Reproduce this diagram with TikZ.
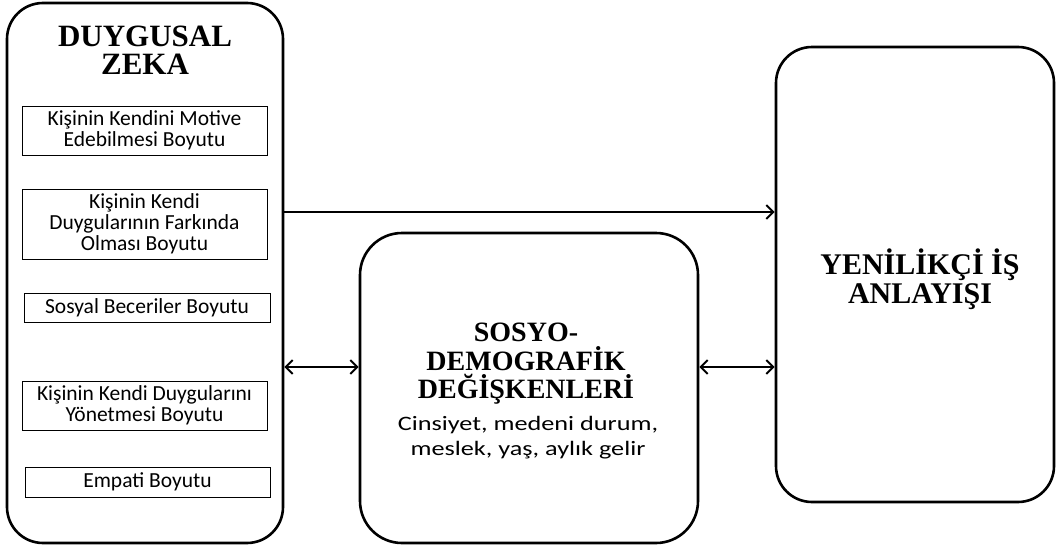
\documentclass[tikz,border=0pt]{standalone}
\usepackage{fontspec}
\setmainfont{Carlito}
\newfontfamily\tnr{Liberation Serif}
\newfontfamily\widecal{Carlito}[FakeStretch=1.28]
\usetikzlibrary{arrows.meta}
\begin{document}
\begin{tikzpicture}[x=1pt,y=-1pt,
  bigbox/.style={draw, line width=2.6pt, rounded corners=36pt, inner sep=0pt},
  subbox/.style={draw, line width=0.9pt, inner sep=0pt, align=center,
     font=\fontsize{21.5}{21}\selectfont},
  titletext/.style={inner sep=0pt, align=center},
  link/.style={line width=2.4pt, -{Straight Barb[length=7pt,width=14pt,line width=2pt]}},
  dlink/.style={line width=2.4pt, {Straight Barb[length=7pt,width=14pt,line width=2pt]}-{Straight Barb[length=7pt,width=14pt,line width=2pt]}}]
\useasboundingbox (0,0) rectangle (1057,549);
% big boxes
\node[bigbox, minimum width=276pt, minimum height=540pt] (L) at (145,273) {};
\node[bigbox, minimum width=338pt, minimum height=310pt, rounded corners=42pt] (M) at (529,388) {};
\node[bigbox, minimum width=278pt, minimum height=455pt] (R) at (915,274.5) {};
% titles
\node[titletext, font=\tnr\bfseries\fontsize{31}{28}\selectfont] (tL) at (145,50) {DUYGUSAL\\ZEKA};
\node[titletext, font=\tnr\bfseries\fontsize{28}{28.5}\selectfont] (tM) at (526,364) {SOSYO-\\DEMOGRAFİK\\DEĞİŞKENLERİ};
\node[titletext, font=\widecal\fontsize{20.5}{25}\selectfont] (bM) at (528,438) {Cinsiyet, medeni durum,\\meslek, yaş, aylık gelir};
\node[titletext, font=\tnr\bfseries\fontsize{30}{29}\selectfont] (tR) at (920,279) {YENİLİKÇİ İŞ\\ANLAYIŞI};
% sub boxes
\node[subbox, minimum width=245pt, minimum height=49pt] (b1) at (144.5,130.5) {Kişinin Kendini Motive\\Edebilmesi Boyutu};
\node[subbox, minimum width=245pt, minimum height=70pt] (b2) at (144.5,224) {Kişinin Kendi\\Duygularının Farkında\\Olması Boyutu};
\node[subbox, minimum width=246pt, minimum height=29pt] (b3) at (147,307.5) {Sosyal Beceriler Boyutu};
\node[subbox, minimum width=245pt, minimum height=49pt] (b4) at (144.5,405.5) {Kişinin Kendi Duygularını\\Yönetmesi Boyutu};
\node[subbox, minimum width=245pt, minimum height=30pt] (b5) at (147.5,482) {Empati Boyutu};
% connectors
\draw[link] (L.east |- 0,212) -- (R.west |- 0,212);
\draw[dlink] (L.east |- 0,367) -- (M.west |- 0,367);
\draw[dlink] (M.east |- 0,367) -- (R.west |- 0,367);
\end{tikzpicture}
\end{document}
